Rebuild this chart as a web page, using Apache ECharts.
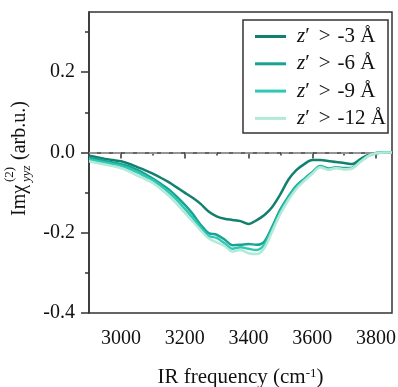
<!DOCTYPE html>
<html>
<head>
<meta charset="utf-8">
<script src="https://cdn.jsdelivr.net/npm/echarts@6/dist/echarts.min.js"></script>
<style>html,body{margin:0;padding:0;background:#fff;}#c{width:398px;height:387px;}</style>
</head>
<body>
<div id="c"></div>
<script>
const freq = [2900,2925,2950,2975,3000,3025,3050,3075,3100,3125,3150,3175,3200,3225,3250,3275,3300,3325,3350,3375,3400,3425,3450,3475,3500,3525,3550,3575,3600,3625,3650,3675,3700,3725,3750,3775,3800,3825,3850];
const s3 = [-0.008,-0.012,-0.016,-0.019,-0.022,-0.028,-0.036,-0.044,-0.053,-0.063,-0.074,-0.087,-0.100,-0.113,-0.128,-0.147,-0.159,-0.165,-0.168,-0.171,-0.178,-0.169,-0.156,-0.135,-0.104,-0.068,-0.044,-0.029,-0.019,-0.019,-0.021,-0.024,-0.026,-0.029,-0.017,-0.006,-0.001,0,0];
const s6 = [-0.013,-0.017,-0.021,-0.025,-0.029,-0.035,-0.043,-0.053,-0.065,-0.078,-0.092,-0.110,-0.130,-0.153,-0.180,-0.201,-0.205,-0.217,-0.231,-0.230,-0.228,-0.230,-0.222,-0.184,-0.142,-0.110,-0.083,-0.066,-0.049,-0.034,-0.040,-0.037,-0.039,-0.038,-0.022,-0.008,-0.002,0,0];
const s9 = [-0.017,-0.021,-0.025,-0.029,-0.033,-0.040,-0.049,-0.059,-0.069,-0.083,-0.099,-0.118,-0.140,-0.163,-0.187,-0.208,-0.213,-0.226,-0.240,-0.236,-0.240,-0.243,-0.230,-0.190,-0.148,-0.114,-0.087,-0.068,-0.051,-0.035,-0.042,-0.038,-0.041,-0.039,-0.023,-0.009,-0.002,0,0];
const s12 = [-0.022,-0.026,-0.030,-0.034,-0.039,-0.047,-0.057,-0.066,-0.076,-0.091,-0.108,-0.128,-0.150,-0.172,-0.194,-0.214,-0.224,-0.233,-0.247,-0.243,-0.251,-0.253,-0.238,-0.196,-0.153,-0.119,-0.091,-0.071,-0.053,-0.037,-0.043,-0.039,-0.042,-0.040,-0.024,-0.009,-0.002,0,0];
const depthLabels = ['-3','-6','-9','-12'];
const seriesColors = ['#12806f','#1aa392','#2ec9b5','#b3ead7'];
const xMajorTicks = [3000,3200,3400,3600,3800];
const xMinorTicks = [3100,3300,3500,3700];
const yMajorTicks = [-0.4,-0.2,0,0.2];
const yMinorTicks = [-0.3,-0.1,0.1,0.3];

const allSeries = [s3,s6,s9,s12];
const seriesNames = depthLabels.map(d => 'z′ > ' + d + ' Å');
const FONT = 'Liberation Serif';
const chart = echarts.init(document.getElementById('c'));

const series = allSeries.map((arr,i)=>({
  name: seriesNames[i],
  type:'line',
  xAxisIndex:0, yAxisIndex:0,
  data: freq.map((f,j)=>[f,arr[j]]),
  showSymbol:false,
  smooth:0.3,
  lineStyle:{color:seriesColors[i], width:2.5},
  itemStyle:{color:seriesColors[i]},
  z: 3 + i
}));
series[0].markLine = {
  silent:true, symbol:'none', label:{show:false},
  lineStyle:{color:'#a6a6a6', type:[8,4], width:1.5},
  data:[{yAxis:0}]
};

chart.setOption({
  animation:false,
  grid:{left:89, top:12, right:6, bottom:74, show:true, borderColor:'#333', borderWidth:1.5, outerBoundsMode:'none', containLabel:false},
  legend:{
    orient:'vertical', left:243, top:20,
    padding:[6,2,4,12], itemGap:6.3,
    itemWidth:31, itemHeight:3, icon:'rect',
    borderColor:'#333', borderWidth:1.5, backgroundColor:'#fff',
    data: seriesNames,
    formatter: n => { const d = n.split(' ')[2]; return '{i|z}{r|′}{g|>}{r|' + d + ' Å}'; },
    textStyle:{
      padding:[0,0,0,6], lineHeight:20,
      rich:{
        i:{fontFamily:FONT, fontSize:21, fontStyle:'italic', color:'#111', lineHeight:20},
        r:{fontFamily:FONT, fontSize:21, color:'#111', lineHeight:20},
        g:{fontFamily:FONT, fontSize:21, color:'#111', lineHeight:20, padding:[0,7,0,9]}
      }
    }
  },
  xAxis:[
    {type:'value', min:2900, max:3850, position:'bottom',
     axisLine:{lineStyle:{color:'#333', width:1.5}},
     axisTick:{customValues:xMajorTicks, length:6, lineStyle:{color:'#333', width:1.5}},
     axisLabel:{customValues:xMajorTicks, margin:16, fontFamily:FONT, fontSize:20, color:'#111', formatter:v=>String(v)},
     splitLine:{show:false},
     name:'{a|IR frequency (cm}{s|-1}{a|)}', nameLocation:'middle', nameGap:54,
     nameTextStyle:{rich:{a:{fontFamily:FONT, fontSize:21, color:'#111'}, s:{fontFamily:FONT, fontSize:13, color:'#111', verticalAlign:'top'}}}
    },
    {type:'value', min:2900, max:3850, position:'bottom',
     axisLine:{show:false},
     axisTick:{customValues:xMinorTicks, length:3, lineStyle:{color:'#333', width:1.5}},
     axisLabel:{show:false}, splitLine:{show:false}}
  ],
  yAxis:[
    {type:'value', min:-0.4, max:0.35, position:'left',
     axisLine:{show:true, lineStyle:{color:'#333', width:1.5}},
     axisTick:{show:true, customValues:yMajorTicks, length:8, lineStyle:{color:'#333', width:1.5}},
     axisLabel:{customValues:yMajorTicks, margin:14, fontFamily:FONT, fontSize:20, color:'#111', formatter:v=>v.toFixed(1)},
     splitLine:{show:false}},
    {type:'value', min:-0.4, max:0.35, position:'left',
     axisLine:{show:false},
     axisTick:{show:true, customValues:yMinorTicks, length:4, lineStyle:{color:'#333', width:1.5}},
     axisLabel:{show:false}, splitLine:{show:false}}
  ],
  graphic:[{
    type:'group', x:20, y:216, rotation:Math.PI/2,
    children:[
      {type:'text', x:0, y:0, style:{text:'Imχ', font:'20px "Liberation Serif"', fill:'#111', align:'left', verticalAlign:'middle'}},
      {type:'text', x:34, y:-10, style:{text:'(2)', font:'13px "Liberation Serif"', fill:'#111', align:'left', verticalAlign:'middle'}},
      {type:'text', x:34, y:7, style:{text:'yyz', font:'italic 13px "Liberation Serif"', fill:'#111', align:'left', verticalAlign:'middle'}},
      {type:'text', x:51, y:0, style:{text:' (arb.u.)', font:'20px "Liberation Serif"', fill:'#111', align:'left', verticalAlign:'middle'}}
    ]
  }],
  series: series
});
</script>
</body>
</html>
